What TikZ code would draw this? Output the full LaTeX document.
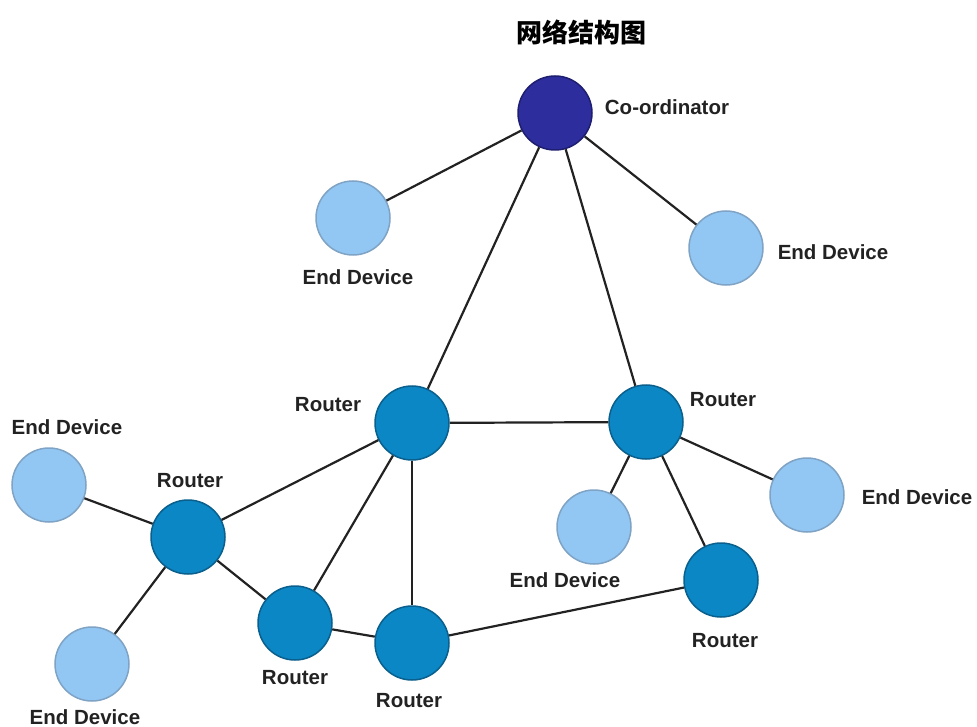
\documentclass[tikz,border=0pt]{standalone}
\usepackage{fontspec}
\setmainfont{Liberation Sans}
\newfontfamily\cjk{Noto Sans CJK SC}
\definecolor{coordfill}{HTML}{2D2D9E}
\definecolor{coorddraw}{HTML}{1E1E70}
\definecolor{routfill}{HTML}{0B87C6}
\definecolor{routdraw}{HTML}{0A5F8C}
\definecolor{edfill}{HTML}{92C6F3}
\definecolor{eddraw}{HTML}{7FA3C4}
\definecolor{txt}{HTML}{222222}
\begin{document}
\begin{tikzpicture}[x=1pt,y=-1pt,
  dev/.style={circle,minimum size=74pt,inner sep=0pt,line width=1.5pt},
  coord/.style={dev,fill=coordfill,draw=coorddraw},
  rout/.style={dev,fill=routfill,draw=routdraw},
  enddev/.style={dev,fill=edfill,draw=eddraw},
  lbl/.style={text=txt,font=\fontsize{20.5}{24}\selectfont\bfseries,inner sep=0pt},
  link/.style={draw=txt,line width=2.2pt}]
\useasboundingbox (0,0) rectangle (977,727);
\node[text=black,font=\cjk\fontsize{26}{30}\selectfont\bfseries] (title) at (581,32) {网络结构图};
% nodes
\node[coord] (C) at (555,113) {};
\node[enddev] (E1) at (353,218) {};
\node[enddev] (E2) at (726,248) {};
\node[rout] (R1) at (412,423) {};
\node[rout] (R2) at (646,422) {};
\node[enddev] (E3) at (49,485) {};
\node[rout] (R3) at (188,537) {};
\node[enddev] (E4) at (92,664) {};
\node[rout] (R4) at (295,623) {};
\node[rout] (R5) at (412,643) {};
\node[enddev] (E5) at (594,527) {};
\node[enddev] (E6) at (807,495) {};
\node[rout] (R6) at (721,580) {};
% links
\path[link] (C) -- (E1);
\path[link] (C) -- (E2);
\path[link] (C) -- (R1);
\path[link] (C) -- (R2);
\path[link] (R1) -- (R2);
\path[link] (R1) -- (R3);
\path[link] (R1) -- (R4);
\path[link] (R1) -- (R5);
\path[link] (R2) -- (E5);
\path[link] (R2) -- (E6);
\path[link] (R2) -- (R6);
\path[link] (R3) -- (E3);
\path[link] (R3) -- (E4);
\path[link] (R3) -- (R4);
\path[link] (R4) -- (R5);
\path[link] (R5) -- (R6);
% labels
\node[lbl] (lC) at (667,107) {Co-ordinator};
\node[lbl] (lE1) at (358,277) {End Device};
\node[lbl] (lE2) at (833,252) {End Device};
\node[lbl] (lR1) at (328,405) {Router};
\node[lbl] (lR2) at (723,400) {Router};
\node[lbl] (lE3) at (67,427) {End Device};
\node[lbl] (lR3) at (190,481) {Router};
\node[lbl] (lE4) at (85,717) {End Device};
\node[lbl] (lR4) at (295,678) {Router};
\node[lbl] (lR5) at (409,701) {Router};
\node[lbl] (lE5) at (565,580) {End Device};
\node[lbl] (lE6) at (917,497) {End Device};
\node[lbl] (lR6) at (725,641) {Router};
\end{tikzpicture}
\end{document}
